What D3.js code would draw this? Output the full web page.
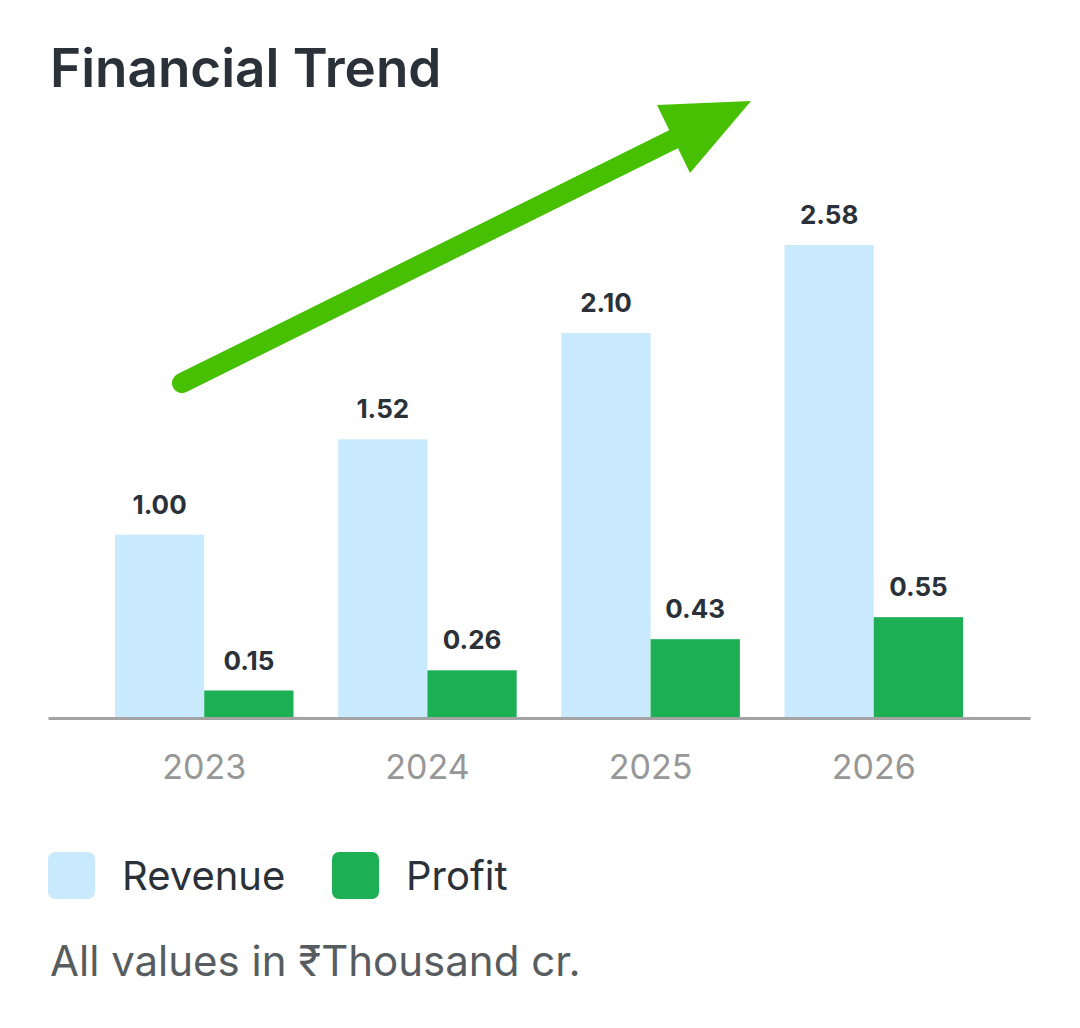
<!DOCTYPE html>
<html>
<head>
  <meta charset="utf-8">
  <script src="https://d3js.org/d3.v7.min.js"></script>
</head>

<style>
body {
  margin: 0;
  background: #ffffff;
}
text {
  font-family: Inter, "Noto Sans", sans-serif;
}
</style>

<body>
</body>

<script>
    // chart data
    var years = ["2023", "2024", "2025", "2026"];
    var series = ["Revenue", "Profit"];
    var revenue = [1.00, 1.52, 2.10, 2.58];
    var profit = [0.15, 0.26, 0.43, 0.55];
    var colors = ["#c8eafc", "#1caf54"];

    var width = 1080,
        height = 1028;

    var svg = d3.select("body")
      .append("svg")
      .attr("width", width)
      .attr("height", height);

    svg.append("text")
      .attr("x", 50)
      .attr("y", 87)
      .attr("font-size", 53)
      .attr("font-weight", 600)
      .attr("fill", "#2b3138")
      .text("Financial Trend");

    var x = d3.scaleBand()
      .domain(years)
      .range([48, 1030])
      .paddingInner(0.2)
      .paddingOuter(0.3);

    var xSub = d3.scaleBand()
      .domain(series)
      .range([0, x.bandwidth()]);

    var y = d3.scaleLinear()
      .domain([0, 3])
      .range([718, 168]);

    var rows = years.map(function(yr, i) {
      return {year: yr, values: [revenue[i], profit[i]]};
    });

    // trend arrow
    svg.append("line")
      .attr("x1", 182).attr("y1", 383)
      .attr("x2", 680).attr("y2", 136)
      .attr("stroke", "#46c000")
      .attr("stroke-width", 20)
      .attr("stroke-linecap", "round");

    svg.append("polygon")
      .attr("points", "751,101 657,105 690,173")
      .attr("fill", "#46c000");

    var groups = svg.selectAll(".grp")
      .data(rows)
      .enter()
      .append("g")
      .attr("class", "grp")
      .attr("transform", function(d) { return "translate(" + x(d.year) + ",0)"; });

    groups.selectAll("rect")
      .data(function(d) { return d.values; })
      .enter()
      .append("rect")
      .attr("x", function(d, i) { return xSub(series[i]); })
      .attr("y", function(d) { return y(d); })
      .attr("width", xSub.bandwidth())
      .attr("height", function(d) { return y(0) - y(d); })
      .attr("fill", function(d, i) { return colors[i]; });

    groups.selectAll(".val")
      .data(function(d) { return d.values; })
      .enter()
      .append("text")
      .attr("class", "val")
      .attr("x", function(d, i) { return xSub(series[i]) + xSub.bandwidth() / 2; })
      .attr("y", function(d) { return y(d) - 21; })
      .attr("text-anchor", "middle")
      .attr("font-size", 26)
      .attr("font-weight", 700)
      .attr("fill", "#2b3138")
      .text(function(d) { return d.toFixed(2); });

    // baseline + year labels
    var xAxis = svg.append("g")
      .attr("transform", "translate(0," + y(0) + ")")
      .call(d3.axisBottom(x).tickSize(0).tickPadding(0));

    xAxis.select(".domain")
      .attr("stroke", "#a3a3a3")
      .attr("stroke-width", 3);

    xAxis.selectAll(".tick text")
      .attr("y", 61)
      .attr("dy", 0)
      .attr("font-size", 34)
      .attr("font-family", "Inter, sans-serif")
      .attr("fill", "#979797");

    // legend
    var legend = svg.selectAll(".leg")
      .data(series)
      .enter()
      .append("g")
      .attr("class", "leg")
      .attr("transform", function(d, i) { return "translate(" + (48 + i * 284) + ",852)"; });

    legend.append("rect")
      .attr("width", 47)
      .attr("height", 47)
      .attr("rx", 7)
      .attr("fill", function(d, i) { return colors[i]; });

    legend.append("text")
      .attr("x", 74)
      .attr("y", 38)
      .attr("font-size", 40)
      .attr("fill", "#2b3138")
      .text(function(d) { return d; });

    svg.append("text")
      .attr("x", 50)
      .attr("y", 976)
      .attr("font-size", 42)
      .attr("fill", "#575c61")
      .text("All values in ₹Thousand cr.");
</script>
</html>
